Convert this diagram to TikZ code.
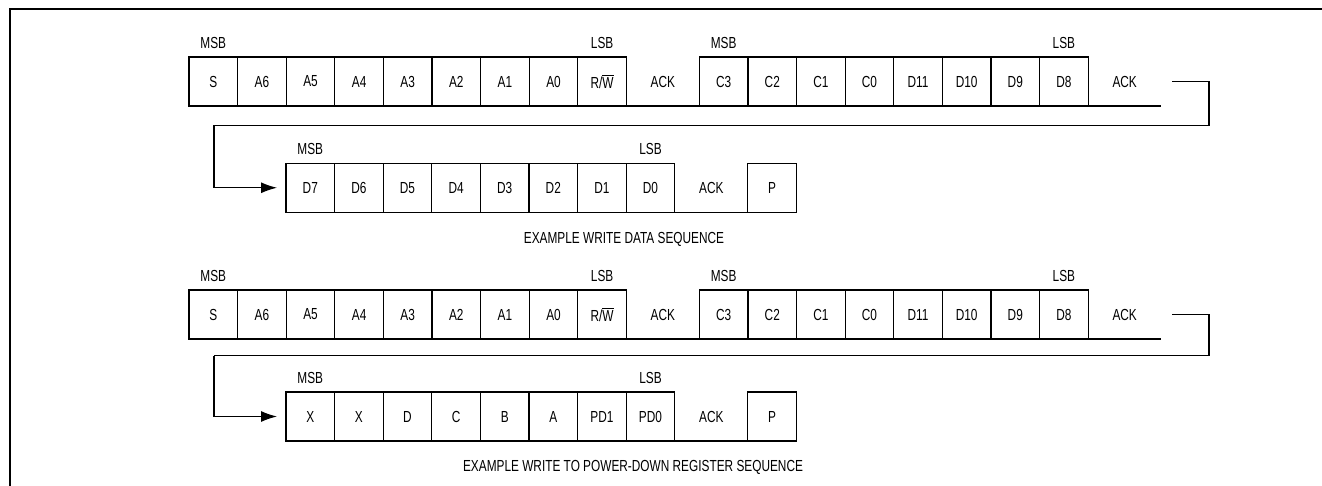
\documentclass[tikz,border=0pt]{standalone}
\usepackage{fontspec}
\setmainfont{Liberation Sans}[FakeStretch=0.74]
\usetikzlibrary{positioning,arrows.meta}
\tikzset{
  cell/.style={draw, line width=0.55pt, minimum width=24.3pt, minimum height=24.5pt,
    inner sep=0pt, outer sep=0pt, font=\fontsize{8}{9.5}\selectfont},
  ackcell/.style={minimum width=36.5pt, minimum height=24.5pt,
    inner sep=0pt, outer sep=0pt, font=\fontsize{8}{9.5}\selectfont},
  lbl/.style={inner sep=0pt, font=\fontsize{8}{9.5}\selectfont},
  baseline/.style={line width=0.55pt},
  conn/.style={line width=0.6pt},
  frameline/.style={line width=1pt}
}
\newcommand{\rwbar}{R/$\overline{\mbox{W}}$}
\begin{document}
\begin{tikzpicture}[x=0.5pt,y=-0.5pt]
\useasboundingbox (0,0) rectangle (1322,486);
\draw[frameline] (9.5,486) -- (9.5,9.5) -- (1322,9.5);

% ---------- Block 1, row 1 ----------
\node[cell, anchor=west] (a-s) at (189,81.5) {S};
\node[cell, right=0pt of a-s] (a-a6) {A6};
\node[cell, right=0pt of a-a6] (a-a5) {A5};
\node[cell, right=0pt of a-a5] (a-a4) {A4};
\node[cell, right=0pt of a-a4] (a-a3) {A3};
\node[cell, right=0pt of a-a3] (a-a2) {A2};
\node[cell, right=0pt of a-a2] (a-a1) {A1};
\node[cell, right=0pt of a-a1] (a-a0) {A0};
\node[cell, right=0pt of a-a0] (a-rw) {\rwbar};
\node[ackcell, right=0pt of a-rw] (a-ack1) {ACK};
\node[cell, right=0pt of a-ack1] (a-c3) {C3};
\node[cell, right=0pt of a-c3] (a-c2) {C2};
\node[cell, right=0pt of a-c2] (a-c1) {C1};
\node[cell, right=0pt of a-c1] (a-c0) {C0};
\node[cell, right=0pt of a-c0] (a-d11) {D11};
\node[cell, right=0pt of a-d11] (a-d10) {D10};
\node[cell, right=0pt of a-d10] (a-d9) {D9};
\node[cell, right=0pt of a-d9] (a-d8) {D8};
\node[ackcell, right=0pt of a-d8] (a-ack2) {ACK};
\draw[baseline] (a-s.south west) -- (a-ack2.south east);
\node[lbl] (a-msb1) at ([yshift=7pt]a-s.north) {MSB};
\node[lbl] (a-lsb1) at ([yshift=7pt]a-rw.north) {LSB};
\node[lbl] (a-msb2) at ([yshift=7pt]a-c3.north) {MSB};
\node[lbl] (a-lsb2) at ([yshift=7pt]a-d8.north) {LSB};

% ---------- Block 1, row 2 ----------
\node[cell, anchor=west] (b-d7) at (286,187.75) {D7};
\node[cell, right=0pt of b-d7] (b-d6) {D6};
\node[cell, right=0pt of b-d6] (b-d5) {D5};
\node[cell, right=0pt of b-d5] (b-d4) {D4};
\node[cell, right=0pt of b-d4] (b-d3) {D3};
\node[cell, right=0pt of b-d3] (b-d2) {D2};
\node[cell, right=0pt of b-d2] (b-d1) {D1};
\node[cell, right=0pt of b-d1] (b-d0) {D0};
\node[ackcell, right=0pt of b-d0] (b-ack) {ACK};
\node[cell, right=0pt of b-ack] (b-p) {P};
\draw[baseline] (b-d7.south west) -- (b-p.south east);
\node[lbl] (b-msb) at ([yshift=7pt]b-d7.north) {MSB};
\node[lbl] (b-lsb) at ([yshift=7pt]b-d0.north) {LSB};
\node[lbl] (cap1) at (624,239) {EXAMPLE WRITE DATA SEQUENCE};

\coordinate (j1) at ([xshift=5.5pt]a-ack2.east);
\coordinate (t1) at (1209,125.5);
\coordinate (t2) at (214,125.5);
\draw[conn] (j1) -| (t1) -- (t2);
\draw[conn, -{Latex[length=8pt,width=5.5pt]}, shorten >=4.5pt] (t2) |- (b-d7.west);

% ---------- Block 2, row 3 ----------
\node[cell, anchor=west] (c-s) at (189,314.5) {S};
\node[cell, right=0pt of c-s] (c-a6) {A6};
\node[cell, right=0pt of c-a6] (c-a5) {A5};
\node[cell, right=0pt of c-a5] (c-a4) {A4};
\node[cell, right=0pt of c-a4] (c-a3) {A3};
\node[cell, right=0pt of c-a3] (c-a2) {A2};
\node[cell, right=0pt of c-a2] (c-a1) {A1};
\node[cell, right=0pt of c-a1] (c-a0) {A0};
\node[cell, right=0pt of c-a0] (c-rw) {\rwbar};
\node[ackcell, right=0pt of c-rw] (c-ack1) {ACK};
\node[cell, right=0pt of c-ack1] (c-c3) {C3};
\node[cell, right=0pt of c-c3] (c-c2) {C2};
\node[cell, right=0pt of c-c2] (c-c1) {C1};
\node[cell, right=0pt of c-c1] (c-c0) {C0};
\node[cell, right=0pt of c-c0] (c-d11) {D11};
\node[cell, right=0pt of c-d11] (c-d10) {D10};
\node[cell, right=0pt of c-d10] (c-d9) {D9};
\node[cell, right=0pt of c-d9] (c-d8) {D8};
\node[ackcell, right=0pt of c-d8] (c-ack2) {ACK};
\draw[baseline] (c-s.south west) -- (c-ack2.south east);
\node[lbl] (c-msb1) at ([yshift=7pt]c-s.north) {MSB};
\node[lbl] (c-lsb1) at ([yshift=7pt]c-rw.north) {LSB};
\node[lbl] (c-msb2) at ([yshift=7pt]c-c3.north) {MSB};
\node[lbl] (c-lsb2) at ([yshift=7pt]c-d8.north) {LSB};

% ---------- Block 2, row 4 ----------
\node[cell, anchor=west] (d-x1) at (286,416.5) {X};
\node[cell, right=0pt of d-x1] (d-x2) {X};
\node[cell, right=0pt of d-x2] (d-d) {D};
\node[cell, right=0pt of d-d] (d-c) {C};
\node[cell, right=0pt of d-c] (d-b) {B};
\node[cell, right=0pt of d-b] (d-a) {A};
\node[cell, right=0pt of d-a] (d-pd1) {PD1};
\node[cell, right=0pt of d-pd1] (d-pd0) {PD0};
\node[ackcell, right=0pt of d-pd0] (d-ack) {ACK};
\node[cell, right=0pt of d-ack] (d-p) {P};
\draw[baseline] (d-x1.south west) -- (d-p.south east);
\node[lbl] (d-msb) at ([yshift=7pt]d-x1.north) {MSB};
\node[lbl] (d-lsb) at ([yshift=7pt]d-pd0.north) {LSB};
\node[lbl] (cap2) at (633,467) {EXAMPLE WRITE TO POWER-DOWN REGISTER SEQUENCE};

\coordinate (j2) at ([xshift=5.5pt]c-ack2.east);
\coordinate (t3) at (1209,355.5);
\coordinate (t4) at (214,355.5);
\draw[conn] (j2) -| (t3) -- (t4);
\draw[conn, -{Latex[length=8pt,width=5.5pt]}, shorten >=4.5pt] (t4) |- (d-x1.west);
\end{tikzpicture}
\end{document}
